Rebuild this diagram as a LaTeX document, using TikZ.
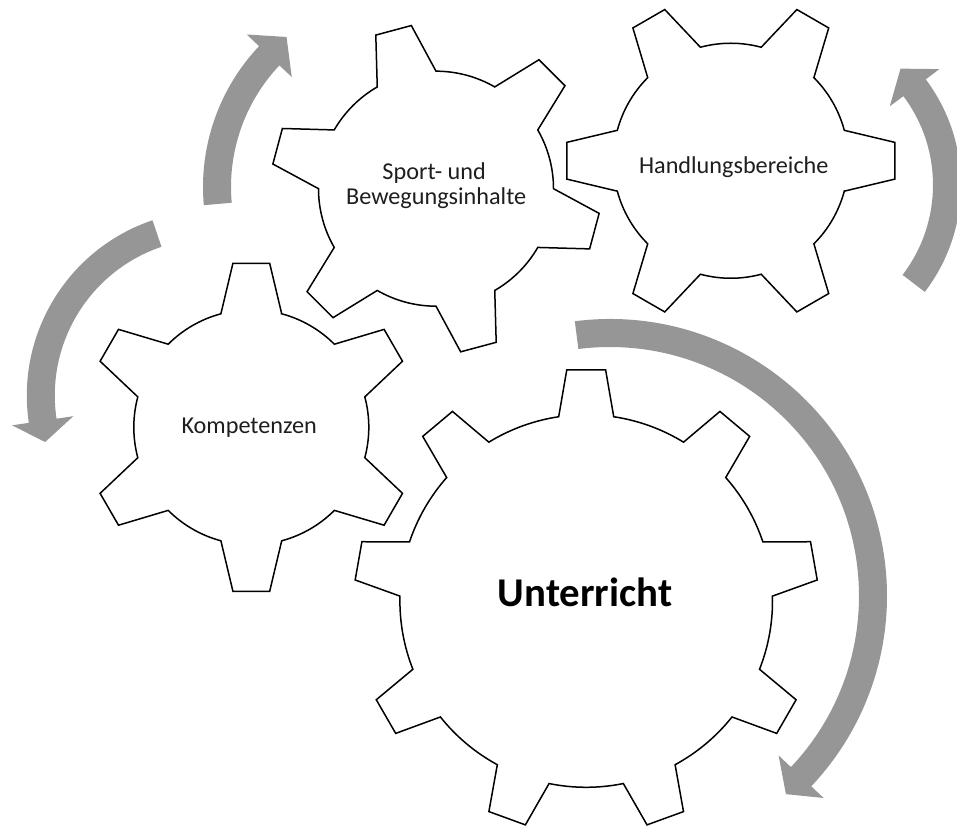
\documentclass[tikz,border=0pt]{standalone}
\usepackage{fontspec}
\setmainfont{Carlito}
\definecolor{arrowgray}{RGB}{150,150,150}
\definecolor{labelgray}{RGB}{30,30,30}

% gear outline: center, teeth, phase, tip radius, body radius, tip half-angle, base half-angle
\newcommand\drawgear[7]{%
  \path[gearline, shift={#1}] ({#3-#7}:#5)
    \foreach \k [evaluate=\k as \t using #3+(\k-1)*360/#2] in {1,...,#2} {
      -- ({\t-#6}:#4) -- ({\t+#6}:#4) -- ({\t+#7}:#5)
      arc[start angle=\t+#7, end angle=\t+360/#2-#7, radius=#5]
    } -- cycle;}

% curved block arrow: center, radius, tail angle, head base angle, tip angle
\newcommand\gearArrow[5]{%
  \fill[arrowfill, shift={#1}]
    ({#3}:{#2+14}) arc[start angle=#3, end angle=#4, radius=#2+14]
    -- ({#4}:{#2+31}) -- ({#5}:{#2+2}) -- ({#4}:{#2-31}) -- ({#4}:{#2-14})
    arc[start angle=#4, end angle=#3, radius=#2-14] -- cycle;}

\begin{document}
\begin{tikzpicture}[x=1bp, y=1bp,
  gearline/.style={draw=black, line width=1.5bp, fill=white, line join=miter},
  arrowfill/.style={fill=arrowgray},
  gearlabel/.style={font=\fontsize{24.3}{25}\selectfont, text=labelgray, inner sep=0pt, anchor=base},
  mainlabel/.style={font=\fontsize{41}{45}\bfseries, text=black, inner sep=0pt, anchor=base},
]
\useasboundingbox (0,0) rectangle (957,826);

% gear centers
\coordinate (kompC) at (251.3,398.7);
\coordinate (sportC) at (436,637.3);
\coordinate (handC) at (730.8,665.25);
\coordinate (untC) at (586.2,225);

% arrow centers
\coordinate (arrA) at (408,639);
\coordinate (arrB) at (211.8,430.5);
\coordinate (arrC) at (785,641);
\coordinate (arrD) at (610,230);

% rotation arrows
\gearArrow{(arrA)}{191}{185.1}{136.6}{129}
\gearArrow{(arrB)}{171}{108.7}{188.5}{195.6}
\gearArrow{(arrC)}{162}{-37.4}{36.9}{45.2}
\gearArrow{(arrD)}{263}{97.3}{-43.4}{-48.4}

% gears
\drawgear{(kompC)}{6}{90}{165}{117.5}{6.4}{15}
\drawgear{(sportC)}{6}{105}{165}{117.5}{6.4}{15}
\drawgear{(handC)}{6}{0}{165}{117.5}{6.4}{15}
\drawgear{(untC)}{9}{90}{232}{186.3}{4.8}{8.5}

% labels
\node[gearlabel] (komp) at (249.2,392) {Kompetenzen};
\node[gearlabel] (sportA) at (434.2,646) {Sport- und};
\node[gearlabel] (sportB) at (436.2,621.7) {Bewegungsinhalte};
\node[gearlabel] (hand) at (733.8,652.7) {Handlungsbereiche};
\node[mainlabel] (unt) at (585,219.3) {Unterricht};
\end{tikzpicture}
\end{document}
